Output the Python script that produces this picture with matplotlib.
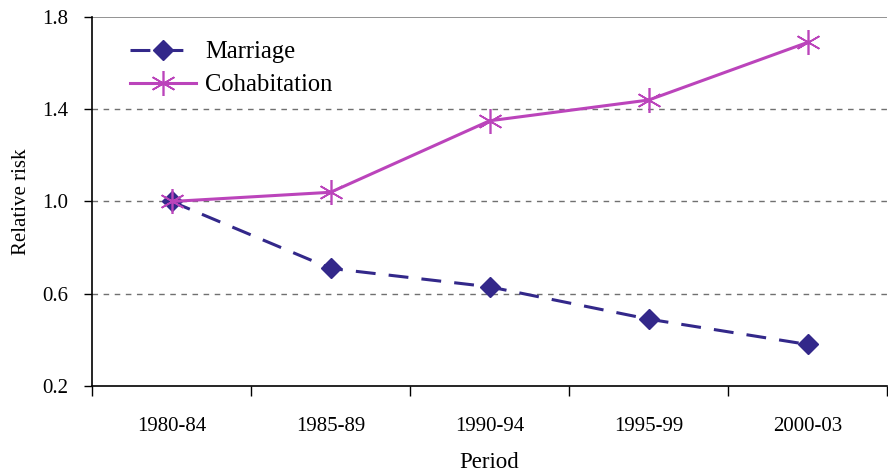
import matplotlib
matplotlib.use("Agg")
import matplotlib.pyplot as plt

periods = ["1980-84", "1985-89", "1990-94", "1995-99", "2000-03"]
marriage = [1.00, 0.71, 0.63, 0.49, 0.38]
cohabitation = [1.00, 1.04, 1.35, 1.44, 1.69]
yticks = [0.2, 0.6, 1.0, 1.4, 1.8]

plt.rcParams['font.family'] = ['Liberation Serif', 'DejaVu Serif']

fig = plt.figure(figsize=(8.88, 4.74), dpi=100)
ax = fig.add_axes([0.1036, 0.1857, 0.8955, 0.7784])

x = list(range(len(periods)))
ax.plot(x, marriage, color="#33288a", lw=2.2, ls=(0, (6.5, 4.3)),
        marker="D", ms=10, label="Marriage", zorder=3)
ax.plot(x, cohabitation, color="#bb44bb", lw=2.2,
        marker=(6, 2, 0), ms=18, mew=1.2, label="Cohabitation", zorder=4)

for v in yticks[1:-1]:
    ax.axhline(v, color="#707070", lw=1.0, ls=(0, (4, 4)), zorder=1)
ax.axhline(yticks[-1], color="#808080", lw=1.2, zorder=1)

ax.set_xlim(-0.5, len(periods) - 0.5)
ax.set_ylim(0.2, 1.8)
ax.set_yticks(yticks)
ax.set_yticklabels(["%.1f" % v for v in yticks], fontsize=15)
ax.set_xticks([i - 0.5 for i in range(len(periods) + 1)])
ax.set_xticklabels([])
ax.set_xticks(x, minor=True)
ax.set_xticklabels(periods, minor=True, fontsize=15)
ax.tick_params(axis="x", which="minor", length=0, pad=22)
ax.tick_params(axis="x", which="major", length=7, direction="out", width=1)
ax.tick_params(axis="y", length=6, direction="out", width=1, pad=11)

for s in ["top", "right"]:
    ax.spines[s].set_visible(False)
ax.spines["left"].set_linewidth(1.2)
ax.spines["bottom"].set_linewidth(1.2)

ax.set_xlabel("Period", fontsize=16.5, labelpad=12)
ax.set_ylabel("Relative risk", fontsize=15, labelpad=8)

ax.legend(loc="upper left", bbox_to_anchor=(0.02, 0.995), frameon=False,
          fontsize=17.7, handlelength=2.7, labelspacing=0.45, handletextpad=0.35)

fig.savefig("out.png", dpi=100)
